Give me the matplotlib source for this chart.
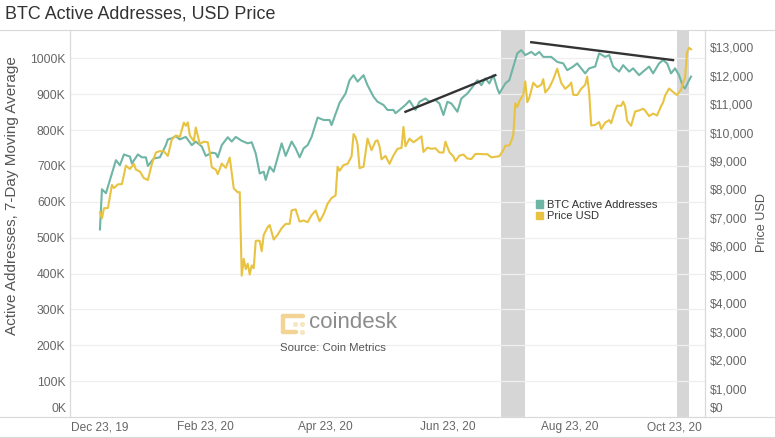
import matplotlib
matplotlib.use('Agg')
import matplotlib.pyplot as plt
from matplotlib.patches import Patch
from matplotlib.lines import Line2D
import pandas as pd

plt.rcParams['font.family'] = ['Liberation Sans', 'DejaVu Sans']

# BTC active addresses, 7-day moving average (thousands)
addr_dates = [
    '2020-01-01', '2020-01-02', '2020-01-04', '2020-01-06', '2020-01-09', '2020-01-11',
    '2020-01-13', '2020-01-16', '2020-01-17', '2020-01-20', '2020-01-22', '2020-01-24',
    '2020-01-25', '2020-01-28', '2020-01-31', '2020-02-03', '2020-02-04', '2020-02-06',
    '2020-02-08', '2020-02-10', '2020-02-13', '2020-02-16', '2020-02-18', '2020-02-21',
    '2020-02-23', '2020-02-26', '2020-02-28', '2020-02-29', '2020-03-02', '2020-03-05',
    '2020-03-07', '2020-03-09', '2020-03-12', '2020-03-15', '2020-03-17', '2020-03-19',
    '2020-03-21', '2020-03-23', '2020-03-24', '2020-03-26', '2020-03-28', '2020-04-01',
    '2020-04-03', '2020-04-06', '2020-04-08', '2020-04-10', '2020-04-12', '2020-04-14',
    '2020-04-16', '2020-04-19', '2020-04-22', '2020-04-25', '2020-04-26', '2020-04-30',
    '2020-05-03', '2020-05-05', '2020-05-07', '2020-05-09', '2020-05-12', '2020-05-14',
    '2020-05-17', '2020-05-19', '2020-05-22', '2020-05-24', '2020-05-27', '2020-05-28',
    '2020-05-30', '2020-06-02', '2020-06-04', '2020-06-07', '2020-06-09', '2020-06-12',
    '2020-06-14', '2020-06-17', '2020-06-19', '2020-06-21', '2020-06-23', '2020-06-25',
    '2020-06-28', '2020-06-30', '2020-07-03', '2020-07-05', '2020-07-08', '2020-07-10',
    '2020-07-12', '2020-07-14', '2020-07-16', '2020-07-18', '2020-07-19', '2020-07-22',
    '2020-07-24', '2020-07-26', '2020-07-28', '2020-07-30', '2020-08-01', '2020-08-04',
    '2020-08-06', '2020-08-08', '2020-08-10', '2020-08-14', '2020-08-17', '2020-08-20',
    '2020-08-22', '2020-08-25', '2020-08-27', '2020-08-31', '2020-09-02', '2020-09-05',
    '2020-09-07', '2020-09-10', '2020-09-12', '2020-09-14', '2020-09-17', '2020-09-19',
    '2020-09-22', '2020-09-24', '2020-09-27', '2020-09-29', '2020-10-02', '2020-10-04',
    '2020-10-07', '2020-10-09', '2020-10-11', '2020-10-13', '2020-10-15', '2020-10-17',
    '2020-10-19', '2020-10-20', '2020-10-22', '2020-10-23',
]
addr_k = [
    523, 635, 624, 661, 716, 702,
    732, 726, 707, 732, 724, 724,
    700, 721, 724, 758, 774, 777,
    783, 774, 781, 758, 768, 754,
    728, 737, 735, 724, 758, 780,
    768, 781, 770, 763, 766, 735,
    679, 684, 661, 698, 684, 763,
    728, 768, 749, 724, 749, 758,
    781, 835, 828, 828, 814, 876,
    902, 939, 953, 935, 953, 925,
    893, 879, 870, 856, 856, 847,
    856, 870, 882, 856, 879, 888,
    879, 884, 874, 842, 879, 874,
    851, 888, 902, 916, 939, 925,
    944, 930, 953, 916, 902, 930,
    939, 977, 1014, 1023, 1009, 1018,
    1009, 1018, 1004, 1004, 990, 986,
    967, 977, 986, 958, 972, 977,
    1014, 1004, 1009, 977, 963, 981,
    963, 972, 953, 963, 977, 958,
    986, 995, 986, 958, 972, 953,
    921, 916, 939, 949,
]

# BTC price in USD
price_dates = [
    '2020-01-01', '2020-01-02', '2020-01-03', '2020-01-05', '2020-01-07', '2020-01-08',
    '2020-01-10', '2020-01-12', '2020-01-14', '2020-01-16', '2020-01-18', '2020-01-19',
    '2020-01-21', '2020-01-23', '2020-01-25', '2020-01-27', '2020-01-29', '2020-01-31',
    '2020-02-02', '2020-02-04', '2020-02-06', '2020-02-08', '2020-02-10', '2020-02-12',
    '2020-02-13', '2020-02-14', '2020-02-15', '2020-02-17', '2020-02-18', '2020-02-20',
    '2020-02-22', '2020-02-24', '2020-02-25', '2020-02-26', '2020-02-28', '2020-02-29',
    '2020-03-02', '2020-03-04', '2020-03-06', '2020-03-08', '2020-03-10', '2020-03-11',
    '2020-03-12', '2020-03-13', '2020-03-14', '2020-03-15', '2020-03-16', '2020-03-17',
    '2020-03-18', '2020-03-19', '2020-03-20', '2020-03-21', '2020-03-22', '2020-03-23',
    '2020-03-25', '2020-03-26', '2020-03-28', '2020-03-30', '2020-04-01', '2020-04-03',
    '2020-04-05', '2020-04-06', '2020-04-08', '2020-04-10', '2020-04-12', '2020-04-14',
    '2020-04-16', '2020-04-18', '2020-04-20', '2020-04-22', '2020-04-24', '2020-04-26',
    '2020-04-28', '2020-04-29', '2020-04-30', '2020-05-02', '2020-05-04', '2020-05-06',
    '2020-05-07', '2020-05-08', '2020-05-09', '2020-05-10', '2020-05-12', '2020-05-13',
    '2020-05-14', '2020-05-16', '2020-05-18', '2020-05-19', '2020-05-20', '2020-05-21',
    '2020-05-23', '2020-05-25', '2020-05-27', '2020-05-29', '2020-05-31', '2020-06-01',
    '2020-06-02', '2020-06-04', '2020-06-06', '2020-06-08', '2020-06-10', '2020-06-11',
    '2020-06-13', '2020-06-15', '2020-06-17', '2020-06-19', '2020-06-21', '2020-06-22',
    '2020-06-24', '2020-06-26', '2020-06-27', '2020-06-29', '2020-07-01', '2020-07-03',
    '2020-07-05', '2020-07-07', '2020-07-09', '2020-07-11', '2020-07-13', '2020-07-15',
    '2020-07-17', '2020-07-19', '2020-07-21', '2020-07-22', '2020-07-24', '2020-07-25',
    '2020-07-26', '2020-07-27', '2020-07-28', '2020-07-29', '2020-07-31', '2020-08-01',
    '2020-08-02', '2020-08-03', '2020-08-05', '2020-08-07', '2020-08-09', '2020-08-10',
    '2020-08-11', '2020-08-13', '2020-08-15', '2020-08-17', '2020-08-18', '2020-08-19',
    '2020-08-21', '2020-08-23', '2020-08-24', '2020-08-25', '2020-08-27', '2020-08-29',
    '2020-08-31', '2020-09-01', '2020-09-02', '2020-09-03', '2020-09-05', '2020-09-07',
    '2020-09-08', '2020-09-10', '2020-09-12', '2020-09-13', '2020-09-15', '2020-09-16',
    '2020-09-18', '2020-09-19', '2020-09-20', '2020-09-21', '2020-09-23', '2020-09-25',
    '2020-09-27', '2020-09-29', '2020-09-30', '2020-10-02', '2020-10-04', '2020-10-06',
    '2020-10-08', '2020-10-09', '2020-10-10', '2020-10-12', '2020-10-14', '2020-10-16',
    '2020-10-18', '2020-10-19', '2020-10-20', '2020-10-21', '2020-10-22', '2020-10-23',
]
price_usd = [
    7200, 6985, 7340, 7350, 8160, 8050,
    8180, 8190, 8840, 8720, 8900, 8700,
    8630, 8400, 8330, 8900, 9300, 9350,
    9340, 9180, 9760, 9900, 9850, 10350,
    10240, 10360, 9900, 9700, 10180, 9600,
    9680, 9660, 9300, 8780, 8700, 8540,
    8910, 8760, 9120, 8040, 7900, 7910,
    4970, 5560, 5200, 5390, 5010, 5330,
    5230, 6190, 6200, 6190, 5830, 6400,
    6680, 6750, 6240, 6410, 6640, 6790,
    6790, 7270, 7300, 6870, 6910, 6850,
    7100, 7260, 6880, 7130, 7500, 7700,
    7790, 8800, 8660, 8860, 8900, 9160,
    9950, 9840, 9590, 8750, 8800, 9300,
    9790, 9380, 9700, 9730, 9520, 9060,
    9180, 8900, 9200, 9430, 9460, 10200,
    9520, 9790, 9660, 9760, 9870, 9320,
    9470, 9430, 9450, 9300, 9300, 9680,
    9310, 9160, 9000, 9190, 9230, 9090,
    9070, 9250, 9250, 9240, 9240, 9130,
    9150, 9170, 9380, 9540, 9550, 9700,
    9930, 11030, 10900, 11100, 11340, 11800,
    11070, 11220, 11750, 11600, 11680, 11880,
    11410, 11580, 11870, 12250, 11990, 11750,
    11540, 11660, 11760, 11330, 11320, 11540,
    11680, 11970, 11410, 10250, 10270, 10370,
    10130, 10350, 10440, 10330, 10790, 10950,
    10940, 11090, 10920, 10420, 10240, 10740,
    10780, 10840, 10780, 10580, 10670, 10600,
    10930, 11060, 11300, 11550, 11430, 11320,
    11510, 11750, 11920, 12820, 12980, 12930,
]

# highlighted periods and hand drawn trend lines
band_starts = ['2020-07-20', '2020-10-16']
band_ends = ['2020-08-01', '2020-10-22']
trend1_dates = ['2020-06-02', '2020-07-17']
trend1_k = [851, 953]
trend2_dates = ['2020-08-04', '2020-10-14']
trend2_k = [1045, 995]

left_ticks = list(range(0, 1001, 100))
left_labels = ['%dK' % v for v in left_ticks]
right_ticks = list(range(0, 13001, 1000))
right_labels = ['${:,}'.format(v) for v in right_ticks]
x_ticks = ['2019-12-23', '2020-02-23', '2020-04-23', '2020-06-23', '2020-08-23', '2020-10-23']
x_labels = ['Dec 23, 19', 'Feb 23, 20', 'Apr 23, 20', 'Jun 23, 20', 'Aug 23, 20', 'Oct 23, 20']

TEAL = '#6fb5a5'
YELLOW = '#e8c342'
GRID = '#efefef'
EDGE = '#d9d9d9'
TICK = '#666666'

W, H = 775, 438


def fx(px):
    return px / W


def fy(py):
    return 1 - py / H


fig = plt.figure(figsize=(7.75, 4.38), dpi=100)
ax = fig.add_axes([fx(70), fy(417), 635 / W, 387 / H])
ax2 = ax.twinx()

ax.set_xlim(pd.Timestamp('2019-12-17'), pd.Timestamp('2020-10-30'))
ax.set_ylim(0, 1079)
ax2.set_ylim(0, 13608)

for s, e in zip(band_starts, band_ends):
    ax.axvspan(pd.Timestamp(s), pd.Timestamp(e), color='#d6d6d6', lw=0, zorder=0.2)

ax.set_yticks(left_ticks)
ax.set_yticklabels([''] + left_labels[1:])
ax.grid(axis='y', color=GRID, lw=0.9, zorder=0.5)
ax.set_axisbelow(True)

ax.plot(pd.to_datetime(addr_dates), addr_k, color=TEAL, lw=1.5, zorder=3)
ax.plot(pd.to_datetime(trend1_dates), trend1_k, color='#333333', lw=1.7, zorder=5)
ax.plot(pd.to_datetime(trend2_dates), trend2_k, color='#333333', lw=1.7, zorder=5)
ax2.plot(pd.to_datetime(price_dates), price_usd, color=YELLOW, lw=1.5, zorder=2)

ax2.set_yticks(right_ticks)
ax2.set_yticklabels([''] + right_labels[1:])

ax.set_xticks(pd.to_datetime(x_ticks))
ax.set_xticklabels([''] + x_labels[1:-1] + [''])

for a in (ax, ax2):
    for sp in a.spines.values():
        sp.set_color(EDGE)
        sp.set_linewidth(0.8)
    a.spines['top'].set_visible(False)
    a.spines['bottom'].set_visible(False)
ax.tick_params(axis='y', length=0, pad=3.2, labelsize=8.7, labelcolor=TICK)
ax2.tick_params(axis='y', length=0, pad=3.6, labelsize=8.7, labelcolor=TICK)
ax.tick_params(axis='x', length=0, pad=2.6, labelsize=8.6, labelcolor=TICK)

# edge labels that sit inside the plot range
fig.text(fx(66), fy(409), left_labels[0], ha='right', va='center', fontsize=8.7, color=TICK)
fig.text(fx(710), fy(409), right_labels[0], ha='left', va='center', fontsize=8.7, color=TICK)
fig.text(fx(100), fy(421), x_labels[0], ha='center', va='top', fontsize=8.6, color=TICK)
fig.text(fx(674.7), fy(421), x_labels[-1], ha='center', va='top', fontsize=8.6, color=TICK)

# frame lines across the whole figure
for py in (30, 417, 437):
    fig.add_artist(Line2D([0, 1], [fy(py), fy(py)], color=EDGE, lw=0.8))

fig.text(fx(5), fy(14), 'BTC Active Addresses, USD Price', ha='left', va='center',
         fontsize=12.9, color='#333333')
fig.text(fx(12), fy(196), 'Active Addresses, 7-Day Moving Average', rotation=90,
         ha='center', va='center', fontsize=11, color='#555555')
fig.text(fx(762), fy(222), 'Price USD', rotation=90, ha='center', va='center',
         fontsize=9.1, color='#555555')

handles = [Patch(color=TEAL), Patch(color=YELLOW)]
ax.legend(handles, ['BTC Active Addresses', 'Price USD'], loc='upper left',
          bbox_to_anchor=(fx(535.5), fy(200)), bbox_transform=fig.transFigure,
          frameon=False, fontsize=8, handlelength=0.65, handleheight=0.65,
          handletextpad=0.35, labelspacing=0.12, borderpad=0, borderaxespad=0,
          labelcolor='#333333')

# coindesk watermark
LOGO = '#f2d595'
for xs, ys in (([283, 303], [316, 316]), ([283, 283], [316, 332]), ([283, 296], [332, 332])):
    fig.add_artist(Line2D([fx(v) for v in xs], [fy(v) for v in ys], color=LOGO,
                          lw=3.2, solid_capstyle='round'))
for px, py in ((295, 324), (302, 324), (302, 332)):
    fig.add_artist(Line2D([fx(px)], [fy(py)], marker='o', ms=2.6, color='#f7e6c0', lw=0))
fig.text(fx(309), fy(323), 'coindesk', ha='left', va='center', fontsize=16, color='#8c8c8c')
fig.text(fx(280), fy(347.7), 'Source: Coin Metrics', ha='left', va='center', fontsize=8.2,
         color='#555555')

fig.savefig('out.png', dpi=100)
